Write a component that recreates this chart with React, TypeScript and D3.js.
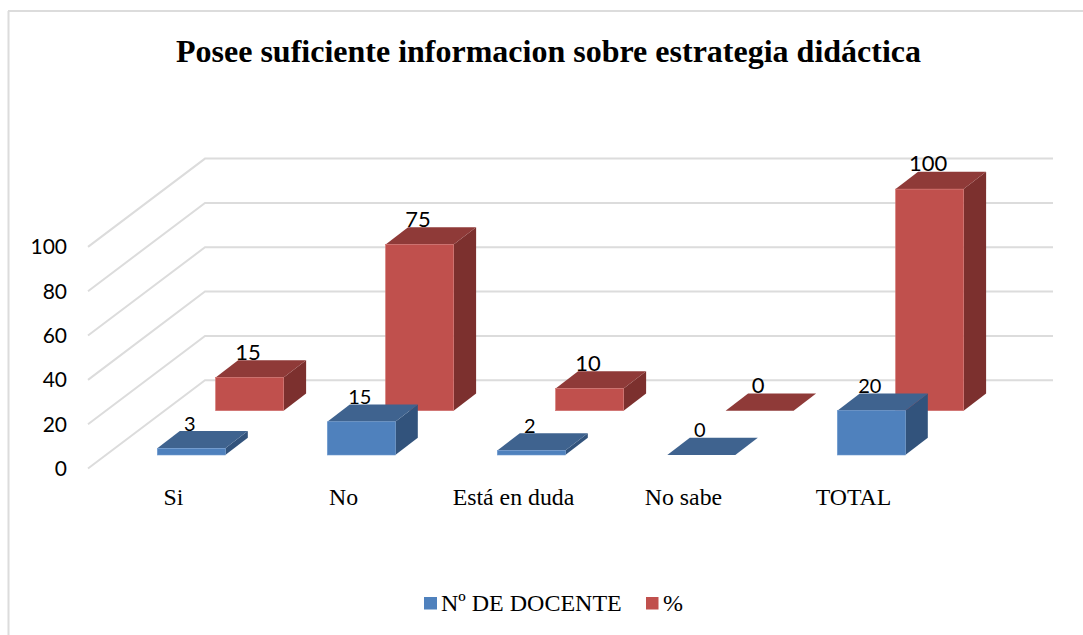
import React from "react";
import * as d3 from "d3";

const categories = ["Si", "No", "Está en duda", "No sabe", "TOTAL"];
const docentes = [3, 15, 2, 0, 20];
const porcentajes = [15, 75, 10, 0, 100];
const yTicks = [0, 20, 40, 60, 80, 100];
const seriesNames = ["Nº DE DOCENTE", "%"];
const title = "Posee suficiente informacion sobre estrategia didáctica";

const W = 1083;
const H = 635;
const SERIF = "'Liberation Serif', serif";
const SANS = "Lato, 'Noto Sans', sans-serif";

// Oblique projection of the 3D plot
const base = 455; // y of the front (blue) series baseline
const serDx = 58.3;
const serDy = -44.3;
const barW = 68;
const depthDx = 22.5;
const depthDy = -17.3;

const x = d3.scaleBand<string>().domain(categories).range([89, 939]);
const h = d3.scaleLinear().domain([0, 100]).range([0, 221.6]);
const gridFront = { x: 88, y: 468.5 };
const gridBack = { x: 205, y: 380.2 };
const gridEnd = 1053;

type Style = { front: string; top: string; side: string; stroke: string; labelSize: number };
const blue: Style = { front: "#4f81bd", top: "#3f638f", side: "#32537c", stroke: "#6f9bd1", labelSize: 20 };
const red: Style = { front: "#c0504d", top: "#8f3a38", side: "#7c302e", stroke: "#d2716e", labelSize: 22 };

const poly = (pts: [number, number][]) => d3.line()(pts) + "Z";

function Bar({ cat, value, ser, st }: { cat: string; value: number; ser: number; st: Style }) {
  const x0 = (x(cat) as number) + 68.3 + ser * serDx;
  const y0 = base + ser * serDy;
  const t = y0 - h(value);
  const x1 = x0 + barW;
  return (
    <g>
      {value > 0 && (
        <path d={poly([[x1, y0], [x1 + depthDx, y0 + depthDy], [x1 + depthDx, t + depthDy], [x1, t]])} fill={st.side} />
      )}
      <path d={poly([[x0, t], [x0 + depthDx, t + depthDy], [x1 + depthDx, t + depthDy], [x1, t]])} fill={st.top} />
      {value > 0 && (
        <rect x={x0} y={t} width={barW} height={y0 - t} fill={st.front} stroke={st.stroke} strokeWidth={0.6} />
      )}
    </g>
  );
}

function Label({ cat, value, ser, st }: { cat: string; value: number; ser: number; st: Style }) {
  const x0 = (x(cat) as number) + 68.3 + ser * serDx;
  const y0 = base + ser * serDy;
  const t = y0 - h(value);
  return (
    <text x={x0 + barW / 2 - 1.5} y={t + depthDy - 0.5} textAnchor="middle" fontFamily={SANS} fontSize={st.labelSize} fill="#000">
      {value}
    </text>
  );
}

export default function App() {
  return (
    <svg width={W} height={H} viewBox={`0 0 ${W} ${H}`} style={{ position: "absolute", left: 0, top: 0, display: "block", background: "#fff" }}>
      <line x1={8.5} y1={11} x2={8.5} y2={H} stroke="#dcdcdc" strokeWidth={2} />
      <line x1={8} y1={11} x2={W} y2={11} stroke="#dcdcdc" strokeWidth={1.8} />

      <text x={548.5} y={62} textAnchor="middle" fontFamily={SERIF} fontWeight="bold" fontSize={32} fill="#000">
        {title}
      </text>

      {yTicks.map((v) => (
        <g key={v}>
          <path
            d={d3.line()([
              [gridFront.x, gridFront.y - h(v)],
              [gridBack.x, gridBack.y - h(v)],
              [gridEnd, gridBack.y - h(v)],
            ]) as string}
            fill="none"
            stroke="#dcdcdc"
            strokeWidth={2}
          />
          <text x={67} y={gridFront.y - h(v) + 7.5} textAnchor="end" fontFamily={SANS} fontSize={21} fill="#000">
            {v}
          </text>
        </g>
      ))}

      {categories.map((c, i) => (
        <Bar key={c} cat={c} value={porcentajes[i]} ser={1} st={red} />
      ))}
      {categories.map((c, i) => (
        <Bar key={c} cat={c} value={docentes[i]} ser={0} st={blue} />
      ))}
      {categories.map((c, i) => (
        <Label key={c} cat={c} value={porcentajes[i]} ser={1} st={red} />
      ))}
      {categories.map((c, i) => (
        <Label key={c} cat={c} value={docentes[i]} ser={0} st={blue} />
      ))}

      {categories.map((c) => (
        <text key={c} x={(x(c) as number) + x.bandwidth() / 2 - 0.5} y={504.5} textAnchor="middle" fontFamily={SERIF} fontSize={23.8} fill="#000">
          {c}
        </text>
      ))}

      <rect x={424} y={597} width={13} height={12.5} fill={blue.front} />
      <text x={441} y={611} fontFamily={SERIF} fontSize={24} fill="#000">{seriesNames[0]}</text>
      <rect x={646} y={597} width={12.5} height={12.5} fill={red.front} />
      <text x={663} y={611} fontFamily={SERIF} fontSize={24} fill="#000">{seriesNames[1]}</text>
    </svg>
  );
}
